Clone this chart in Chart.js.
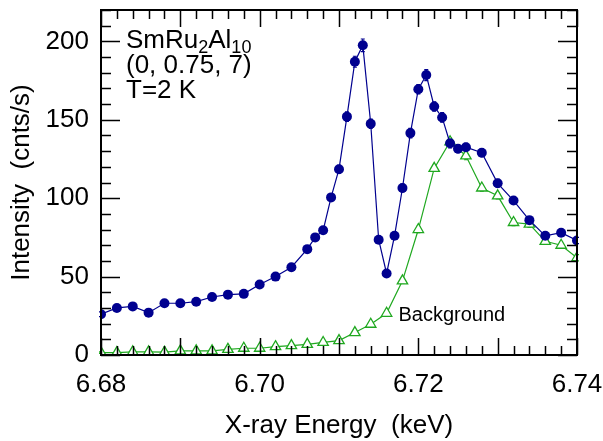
<!DOCTYPE html>
<html>
<head>
<meta charset="utf-8">
<script src="https://cdn.jsdelivr.net/npm/chart.js@4"></script>
<style>
  html, body { margin: 0; padding: 0; background: #fff; }
  #wrap { width: 603px; height: 441px; }
</style>
</head>
<body>
<div id="wrap"><canvas id="chart" width="603" height="441"></canvas></div>
<script>
// Measured signal (blue filled circles)
const sigEnergy = [6.680, 6.682, 6.684, 6.686, 6.688, 6.690, 6.692, 6.694, 6.696, 6.698,
  6.700, 6.702, 6.704, 6.706, 6.707, 6.708, 6.709, 6.710, 6.711, 6.712,
  6.713, 6.714, 6.715, 6.716, 6.717, 6.718, 6.719, 6.720, 6.721, 6.722,
  6.723, 6.724, 6.725, 6.726, 6.728, 6.730, 6.732, 6.734, 6.736, 6.738, 6.740];
const sigCounts = [26, 30, 31, 27, 33, 33, 34, 37, 38.5, 39,
  45, 50, 56, 67.5, 75, 79.5, 100.5, 118.5, 152, 187,
  197.5, 147.5, 73.5, 52, 76, 106.5, 141.5, 169.5, 178.5, 158.5,
  151.5, 135, 131.5, 132.5, 129, 109.5, 98.5, 86, 76, 78, 73];
const sigErr = [1.5, 1.5, 1.5, 1.5, 1.5, 1.5, 1.5, 1.5, 1.5, 1.5,
  1.5, 1.5, 1.5, 2, 2, 2, 2, 2.5, 3, 3.5,
  4, 3, 2, 2, 2, 2.5, 3, 3, 3.5, 3,
  3, 3, 2.5, 2.5, 2.5, 2.5, 2, 2, 2, 2, 2];

// Background (green open triangles)
const bgEnergy = [6.680, 6.682, 6.684, 6.686, 6.688, 6.690, 6.692, 6.694, 6.696, 6.698,
  6.700, 6.702, 6.704, 6.706, 6.708, 6.710, 6.712, 6.714, 6.716, 6.718,
  6.720, 6.722, 6.724, 6.726, 6.728, 6.730, 6.732, 6.734, 6.736, 6.738, 6.740];
const bgCounts = [1.5, 1.5, 2, 2, 1.8, 2.6, 2.6, 2.6, 3.6, 4.3,
  4.3, 5.3, 6, 6.8, 8, 9.2, 14.3, 19.6, 26.6, 47.3,
  80, 119, 136, 127, 106.5, 101.5, 84.5, 83.5, 72.5, 70, 62];
const bgErr = [0.5, 0.5, 0.5, 0.5, 0.5, 0.5, 0.5, 0.5, 0.5, 0.5,
  0.5, 0.5, 0.5, 0.5, 0.5, 0.8, 1, 1, 1.2, 1.5,
  2, 2, 2.5, 2.5, 2, 2, 2, 2, 2, 2, 2];

const xTicks = [6.68, 6.70, 6.72, 6.74];
const yTicks = [0, 50, 100, 150, 200];

const FONT = "'Liberation Sans', Arial, Helvetica, sans-serif";
const BLUE = '#00008f';
const GREEN = '#1fa81f';

function toPoints(xs, ys) {
  return xs.map((x, i) => ({ x: x, y: ys[i] }));
}

// error bars, drawn under the markers
const errorBars = {
  id: 'errorBars',
  beforeDatasetsDraw(chart) {
    const c = chart.ctx;
    const xs = chart.scales.x, ys = chart.scales.y;
    const sets = [[sigEnergy, sigCounts, sigErr, BLUE], [bgEnergy, bgCounts, bgErr, GREEN]];
    c.save();
    c.lineWidth = 1.2;
    sets.forEach(([ex, cy, er, col]) => {
      c.strokeStyle = col;
      ex.forEach((e, i) => {
        const px = xs.getPixelForValue(e);
        const top = ys.getPixelForValue(cy[i] + er[i]);
        const bot = ys.getPixelForValue(cy[i] - er[i]);
        c.beginPath();
        c.moveTo(px, top); c.lineTo(px, bot);
        c.moveTo(px - 2, top); c.lineTo(px + 2, top);
        c.moveTo(px - 2, bot); c.lineTo(px + 2, bot);
        c.stroke();
      });
    });
    c.restore();
  }
};

// frame with inward major / minor ticks on all four sides
const frame = {
  id: 'frame',
  afterDraw(chart) {
    const c = chart.ctx;
    const xs = chart.scales.x, ys = chart.scales.y;
    const L = xs.left, R = xs.right, T = ys.top, B = ys.bottom;
    c.save();
    c.setLineDash([]);
    c.strokeStyle = 'rgb(0,0,0)';
    c.lineWidth = 1.5;
    for (let k = 0; k <= 30; k++) {
      const px = Math.round(xs.getPixelForValue(6.68 + k * 0.002)) + 0.5;
      const len = (k % 5 === 0) ? 17 : 9;
      c.beginPath();
      c.moveTo(px, B); c.lineTo(px, B - len);
      c.moveTo(px, T); c.lineTo(px, T + len);
      c.stroke();
    }
    for (let v = 0; v <= 220; v += 10) {
      const py = Math.round(ys.getPixelForValue(v)) + 0.5;
      const len = (v % 50 === 0) ? 19 : 10;
      c.beginPath();
      c.moveTo(L, py); c.lineTo(L + len, py);
      c.moveTo(R, py); c.lineTo(R - len, py);
      c.stroke();
    }
    c.lineWidth = 2;
    c.beginPath();
    c.moveTo(L, T); c.lineTo(R, T); c.lineTo(R, B); c.lineTo(L, B); c.closePath();
    c.stroke();
    c.restore();
  }
};

// annotation text inside the plot
const notes = {
  id: 'notes',
  afterDraw(chart) {
    const c = chart.ctx;
    const xs = chart.scales.x, ys = chart.scales.y;
    c.save();
    c.fillStyle = '#000';
    c.textBaseline = 'alphabetic';
    c.textAlign = 'left';
    const big = '26px ' + FONT, small = '18px ' + FONT;
    const x0 = xs.left + 25;
    let x = x0;
    const b1 = ys.top + 38;
    [['SmRu', big, 0], ['2', small, 5], ['Al', big, 0], ['10', small, 5]].forEach(([t, f, dy]) => {
      c.font = f;
      c.fillText(t, x, b1 + dy);
      x += c.measureText(t).width;
    });
    c.font = big;
    c.fillText('(0, 0.75, 7)', x0, b1 + 25);
    c.fillText('T=2 K', x0, b1 + 50);
    c.font = '20px ' + FONT;
    c.fillText('Background', xs.getPixelForValue(6.7175), ys.getPixelForValue(22));
    c.restore();
  }
};

new Chart(document.getElementById('chart'), {
  type: 'line',
  data: {
    datasets: [{
      label: 'Signal',
      data: toPoints(sigEnergy, sigCounts),
      borderColor: BLUE,
      backgroundColor: BLUE,
      borderWidth: 1.2,
      pointStyle: 'circle',
      pointRadius: 5,
      pointBorderWidth: 0,
      tension: 0
    }, {
      label: 'Background',
      data: toPoints(bgEnergy, bgCounts),
      borderColor: GREEN,
      backgroundColor: '#fff',
      borderWidth: 1.2,
      pointStyle: 'triangle',
      pointRadius: 6,
      pointBorderWidth: 1.3,
      tension: 0
    }]
  },
  options: {
    responsive: false,
    animation: false,
    layout: { padding: { top: 10, right: 26, left: 0, bottom: 0 } },
    plugins: { legend: { display: false }, tooltip: { enabled: false } },
    scales: {
      x: {
        type: 'linear',
        min: 6.68,
        max: 6.74,
        afterBuildTicks: axis => { axis.ticks = xTicks.map(v => ({ value: v })); },
        afterFit: axis => { axis.height = 86; axis.paddingLeft = 0; axis.paddingRight = 0; },
        grid: { display: false, drawTicks: false },
        border: { display: false },
        ticks: {
          padding: 14,
          maxRotation: 0,
          color: '#000',
          font: { family: FONT, size: 26 },
          callback: v => v.toFixed(2)
        },
        title: {
          display: true,
          text: 'X-ray Energy  (keV)',
          color: '#000',
          font: { family: FONT, size: 26 },
          padding: { top: -3, bottom: 0 }
        }
      },
      y: {
        min: 0,
        max: 220,
        afterBuildTicks: axis => { axis.ticks = yTicks.map(v => ({ value: v })); },
        afterFit: axis => { axis.width = 101; axis.paddingTop = 0; axis.paddingBottom = 0; },
        grid: { display: false, drawTicks: false },
        border: { display: false },
        ticks: {
          padding: 12,
          color: '#000',
          font: { family: FONT, size: 26 }
        },
        title: {
          display: true,
          text: 'Intensity  (cnts/s)',
          color: '#000',
          font: { family: FONT, size: 26 },
          padding: { top: 6, bottom: 0 }
        }
      }
    }
  },
  plugins: [errorBars, frame, notes]
});
</script>
</body>
</html>
